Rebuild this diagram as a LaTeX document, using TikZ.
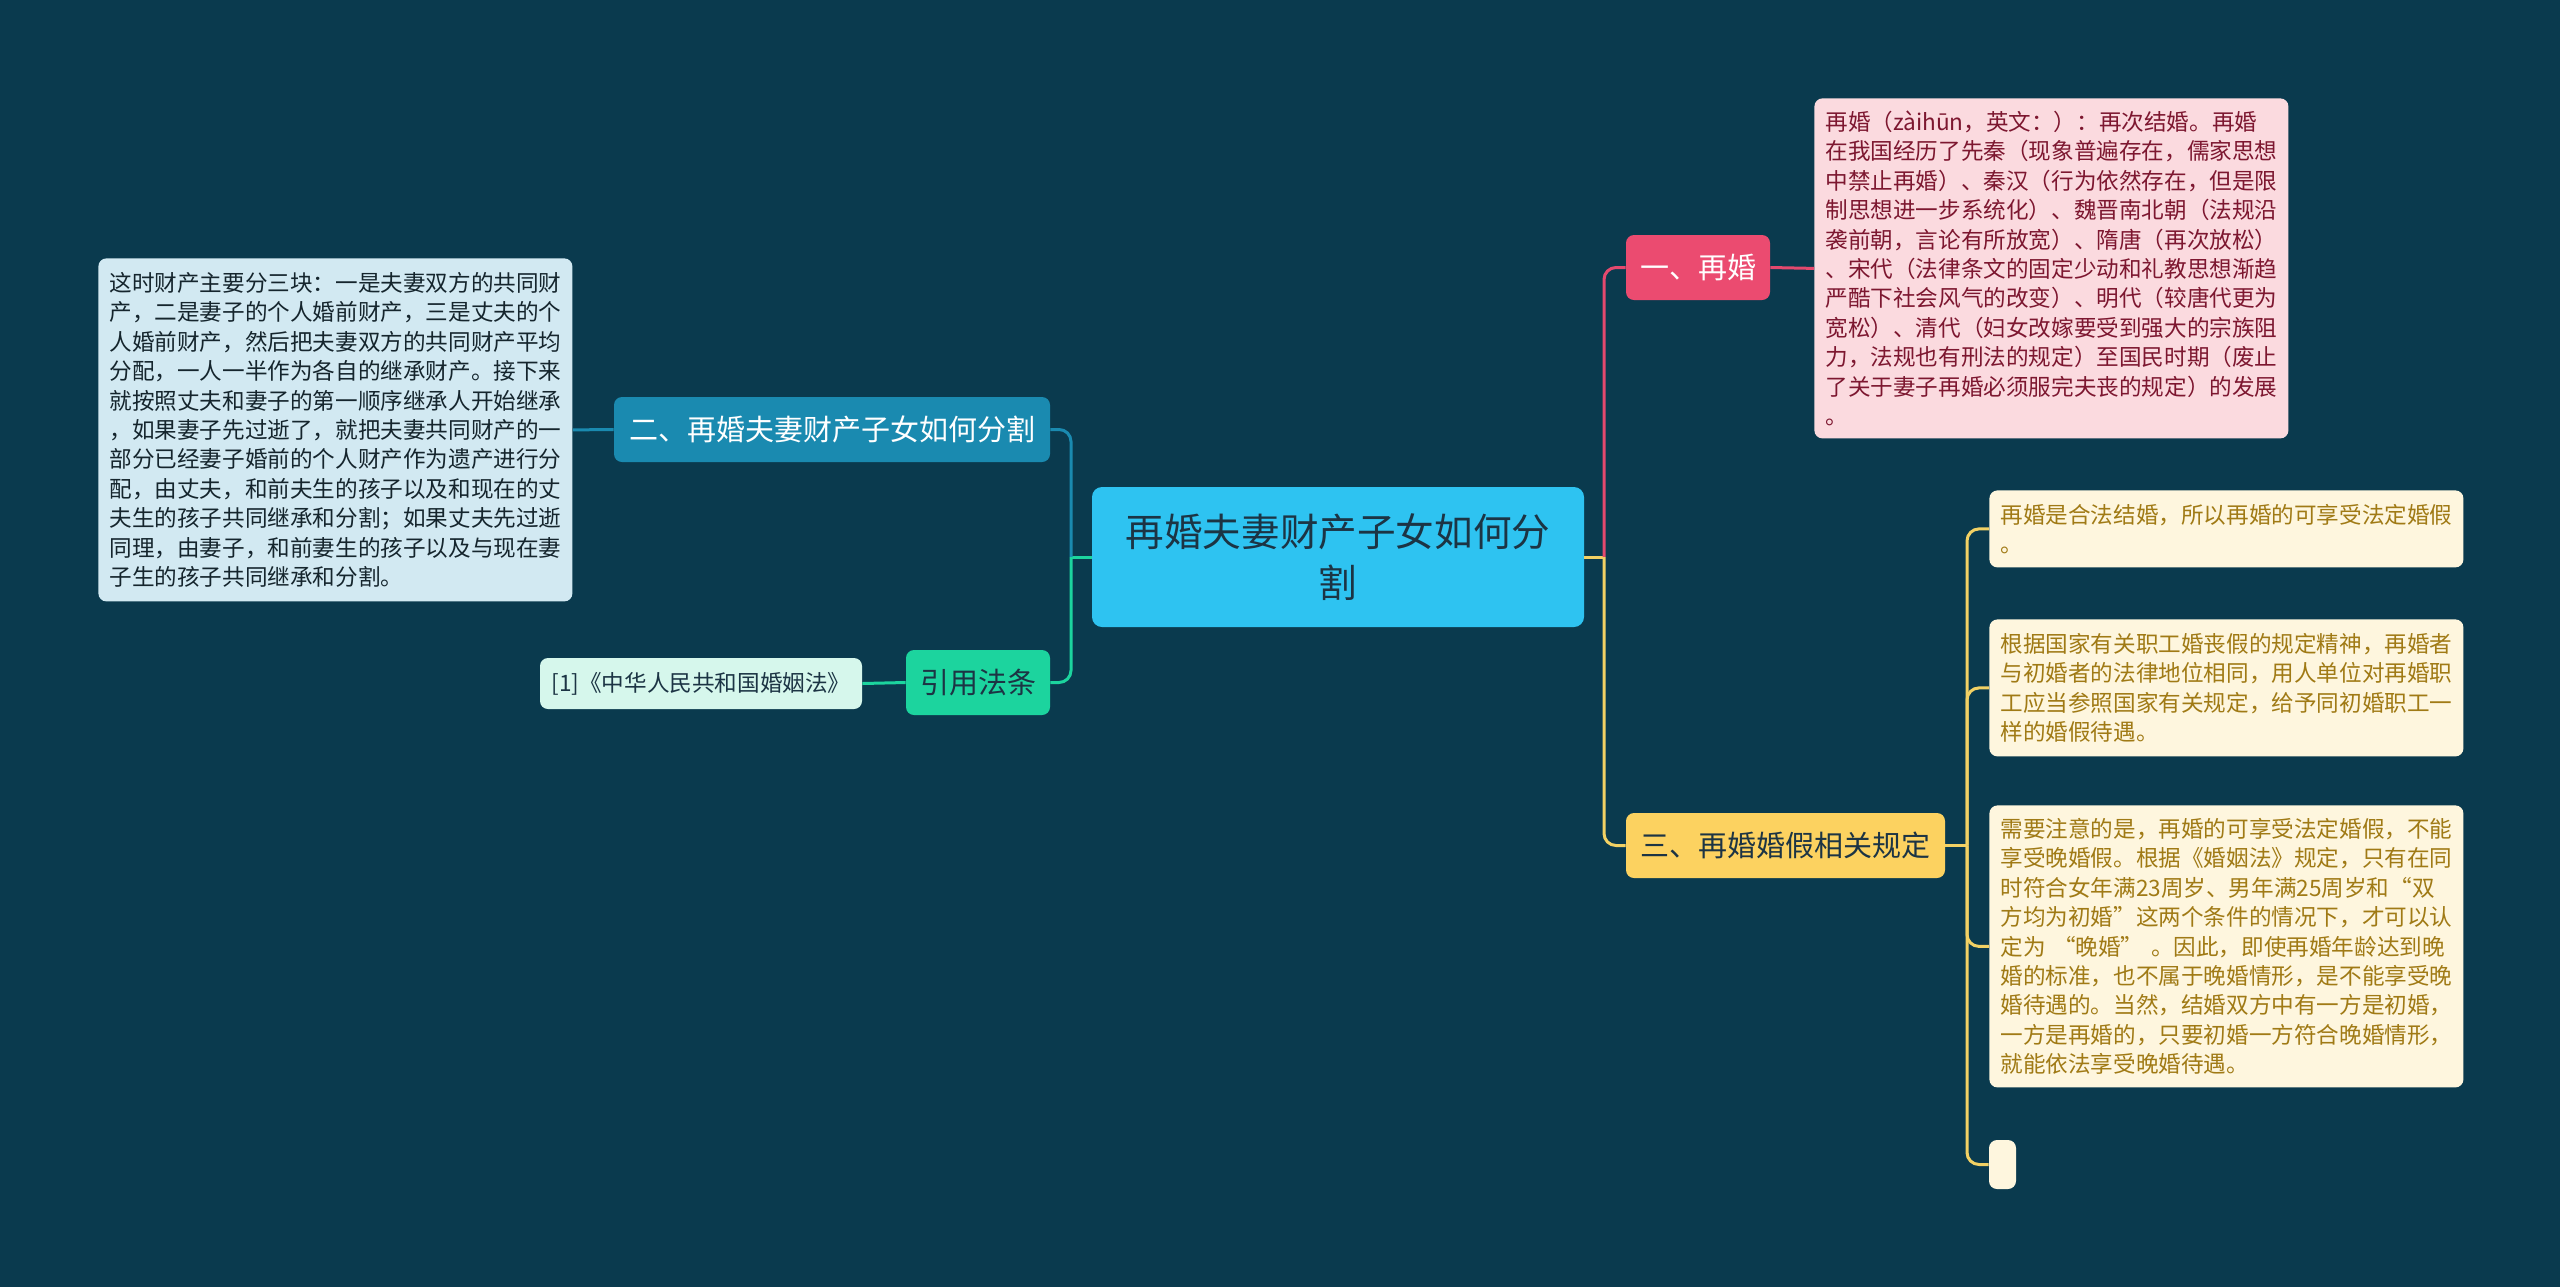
\documentclass[tikz,border=0pt]{standalone}
\usepackage{fontspec}
\setmainfont{Noto Sans CJK SC}
\definecolor{bg}{HTML}{0A3A4E}
\definecolor{rootfill}{HTML}{2EC3F1}
\definecolor{roottext}{HTML}{1C3444}
\definecolor{pinknode}{HTML}{EB4B70}
\definecolor{pinkfill}{HTML}{FBDADF}
\definecolor{pinktext}{HTML}{7D1730}
\definecolor{yelnode}{HTML}{FCD260}
\definecolor{yelfill}{HTML}{FEF6DE}
\definecolor{yeltext}{HTML}{A07A15}
\definecolor{bluenode}{HTML}{1A8AB0}
\definecolor{bluefill}{HTML}{D2E9F2}
\definecolor{bluetext}{HTML}{15252D}
\definecolor{greennode}{HTML}{1CD49E}
\definecolor{greenfill}{HTML}{D6F7EC}
\definecolor{pinkline}{HTML}{E4496E}
\definecolor{yelline}{HTML}{F2D164}
\definecolor{blueline}{HTML}{1A8AB0}
\definecolor{greenline}{HTML}{1CD49E}
\begin{document}
\begin{tikzpicture}[x=0.5pt,y=-0.5pt,
  conn/.style={line width=1.5pt, rounded corners=6pt},
  detail/.style={rounded corners=4pt, inner xsep=5.5pt, inner ysep=0pt, align=left,
    text width=226pt, font=\fontsize{11.3}{14.7}\selectfont, anchor=north west},
  branch/.style={rounded corners=4pt, inner sep=0pt, minimum height=32.5pt,
    font=\fontsize{14.5}{18}\selectfont},
  pinkbox/.style={detail, fill=pinkfill, text=pinktext},
  yelbox/.style={detail, fill=yelfill, text=yeltext},
  bluebox/.style={detail, fill=bluefill, text=bluetext}]
\useasboundingbox (0,0) rectangle (2560,1287);
\fill[bg] (0,0) rectangle (2560,1287);

% root
\node[rounded corners=5pt, fill=rootfill, text=roottext, minimum width=246pt, minimum height=70pt,
  align=center, inner sep=0pt, font=\fontsize{19.3}{25.3}\selectfont] (root) at (1338,557)
  {再婚夫妻财产子女如何分\\割};

% right branches
\node[branch, fill=pinknode, text=white, minimum width=72pt] (n1) at (1698,267.5) {一、再婚};
\node[branch, fill=yelnode, text=roottext, minimum width=159.5pt] (n3) at (1785.5,845.5) {三、再婚婚假相关规定};

\node[pinkbox, minimum height=170pt] (p1) at (1814,98) {再婚（zàihūn，英文：）：再次结婚。再婚\\
在我国经历了先秦（现象普遍存在，儒家思想\\
中禁止再婚）、秦汉（行为依然存在，但是限\\
制思想进一步系统化）、魏晋南北朝（法规沿\\
袭前朝，言论有所放宽）、隋唐（再次放松）\\
、宋代（法律条文的固定少动和礼教思想渐趋\\
严酷下社会风气的改变）、明代（较唐代更为\\
宽松）、清代（妇女改嫁要受到强大的宗族阻\\
力，法规也有刑法的规定）至国民时期（废止\\
了关于妻子再婚必须服完夫丧的规定）的发展\\
。};

\node[yelbox, minimum height=38.5pt] (y1) at (1989,490) {再婚是合法结婚，所以再婚的可享受法定婚假\\
。};
\node[yelbox, minimum height=68.5pt] (y2) at (1989,619) {根据国家有关职工婚丧假的规定精神，再婚者\\
与初婚者的法律地位相同，用人单位对再婚职\\
工应当参照国家有关规定，给予同初婚职工一\\
样的婚假待遇。};
\node[yelbox, minimum height=141pt] (y3) at (1989,805) {需要注意的是，再婚的可享受法定婚假，不能\\
享受晚婚假。根据《婚姻法》规定，只有在同\\
时符合女年满23周岁、男年满25周岁和“双\\
方均为初婚”这两个条件的情况下，才可以认\\
定为 “晚婚” 。因此，即使再婚年龄达到晚\\
婚的标准，也不属于晚婚情形，是不能享受晚\\
婚待遇的。当然，结婚双方中有一方是初婚，\\
一方是再婚的，只要初婚一方符合晚婚情形，\\
就能依法享受晚婚待遇。};
\node[rounded corners=4pt, fill=yelfill, inner sep=0pt, minimum width=13.5pt, minimum height=24.5pt] (y4) at (2002.5,1164.5) {};

% left branches
\node[branch, fill=bluenode, text=white, minimum width=218pt] (n2) at (832,429.5) {二、再婚夫妻财产子女如何分割};
\node[branch, fill=greennode, text=roottext, minimum width=72pt] (n4) at (978,682.5) {引用法条};

\node[bluebox, minimum height=171.5pt] (lb) at (98,258) {这时财产主要分三块：一是夫妻双方的共同财\\
产，二是妻子的个人婚前财产，三是丈夫的个\\
人婚前财产，然后把夫妻双方的共同财产平均\\
分配，一人一半作为各自的继承财产。接下来\\
就按照丈夫和妻子的第一顺序继承人开始继承\\
，如果妻子先过逝了，就把夫妻共同财产的一\\
部分已经妻子婚前的个人财产作为遗产进行分\\
配，由丈夫，和前夫生的孩子以及和现在的丈\\
夫生的孩子共同继承和分割；如果丈夫先过逝\\
同理，由妻子，和前妻生的孩子以及与现在妻\\
子生的孩子共同继承和分割。};
\node[rounded corners=4pt, fill=greenfill, text=roottext, inner sep=0pt, minimum width=161pt,
  minimum height=25.5pt, font=\fontsize{11.3}{14.7}\selectfont] (rb) at (701,683.5) {[1]《中华人民共和国婚姻法》};

% connectors right
\coordinate (rj) at (1604,557);
\coordinate (yj) at (1967,845.5);
\draw[conn, yelline] (root.east) -- (rj);
\draw[conn, pinkline] (rj) |- (n1.west);
\draw[conn, yelline] (rj) |- (n3.west);
\draw[conn, pinkline] (n1.east) -- (p1.west);
\draw[conn, yelline] (n3.east) -- (yj);
\draw[conn, yelline] (yj) |- (y1.west);
\draw[conn, yelline] (yj) |- (y2.west);
\draw[conn, yelline] (yj) |- (y3.west);
\draw[conn, yelline] (yj) |- (y4.west);

% connectors left
\coordinate (lj) at (1071,557);
\draw[conn, greenline] (root.west) -- (lj);
\draw[conn, blueline] (lj) |- (n2.east);
\draw[conn, greenline] (lj) |- (n4.east);
\draw[conn, blueline] (n2.west) -- (lb.east);
\draw[conn, greenline] (n4.west) -- (rb.east);
\end{tikzpicture}
\end{document}
